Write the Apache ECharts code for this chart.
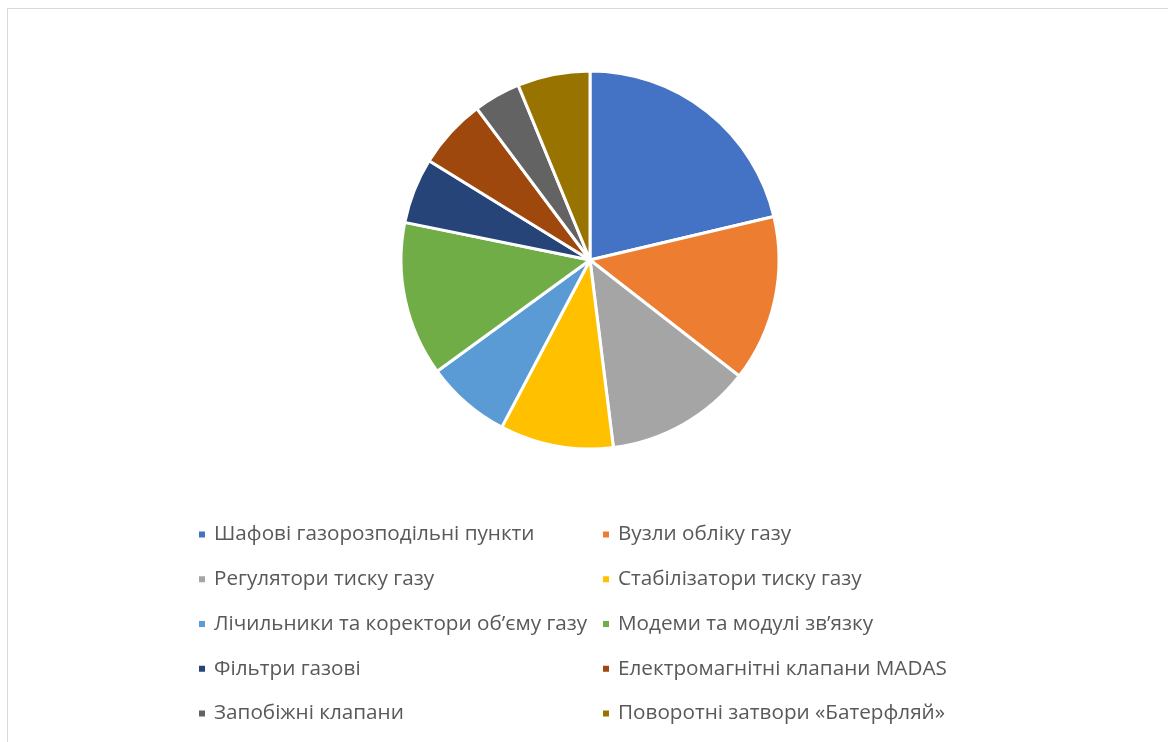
<!DOCTYPE html>
<html>
<head>
<meta charset="utf-8">
<script src="https://cdn.jsdelivr.net/npm/echarts@6/dist/echarts.min.js"></script>
<style>html,body{margin:0;padding:0;background:#fff}#c{width:1168px;height:742px}</style>
</head>
<body>
<div id="c"></div>
<script>
const categories = [
  'Шафові газорозподільні пункти',
  'Вузли обліку газу',
  'Регулятори тиску газу',
  'Стабілізатори тиску газу',
  'Лічильники та коректори об’єму газу',
  'Модеми та модулі зв’язку',
  'Фільтри газові',
  'Електромагнітні клапани MADAS',
  'Запобіжні клапани',
  'Поворотні затвори «Батерфляй»'
];
const values = [21.3, 14.2, 12.5, 9.7, 7.25, 13.2, 5.6, 6.0, 4.0, 6.2];
const colors = ['#4472C4','#ED7D31','#A5A5A5','#FFC000','#5B9BD5','#70AD47','#264478','#9E480E','#636363','#997300'];

const leftCol = categories.filter((_, i) => i % 2 === 0);
const rightCol = categories.filter((_, i) => i % 2 === 1);

const legendCommon = {
  orient: 'vertical',
  icon: 'rect',
  itemWidth: 8,
  itemHeight: 8,
  itemGap: 23.75,
  selectedMode: false,
  padding: 0,
  textStyle: { color: '#595959', fontSize: 20.7, fontFamily: 'Open Sans', lineHeight: 20, padding: [0, 0, 0, 3] }
};

const chart = echarts.init(document.getElementById('c'), null, { renderer: 'canvas' });
chart.setOption({
  animation: false,
  color: colors,
  graphic: [
    { type: 'line', shape: { x1: 7, y1: 8.5, x2: 1168, y2: 8.5 }, style: { stroke: '#d9d9d9', lineWidth: 1 } },
    { type: 'line', shape: { x1: 7.5, y1: 8, x2: 7.5, y2: 742 }, style: { stroke: '#d9d9d9', lineWidth: 1 } }
  ],
  legend: [
    Object.assign({}, legendCommon, { left: 197, top: 524, data: leftCol }),
    Object.assign({}, legendCommon, { left: 601, top: 524, data: rightCol })
  ],
  series: [{
    type: 'pie',
    center: [590, 260],
    radius: [0, 189],
    startAngle: 90,
    clockwise: true,
    label: { show: false },
    labelLine: { show: false },
    emphasis: { disabled: true },
    itemStyle: { borderColor: '#fff', borderWidth: 3 },
    data: categories.map((n, i) => ({ name: n, value: values[i] }))
  }]
});
</script>
</body>
</html>
